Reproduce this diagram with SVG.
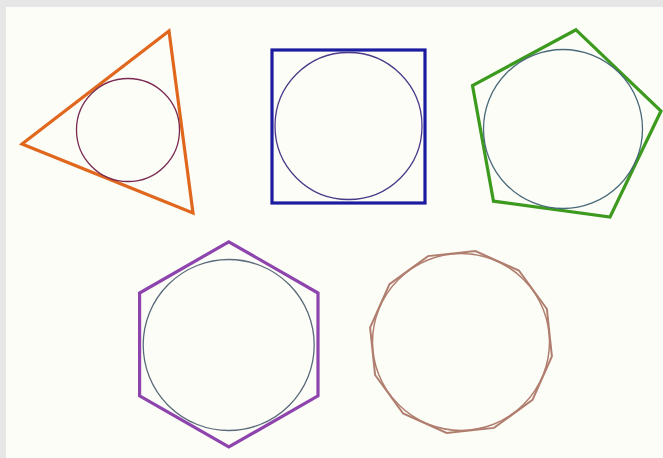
<svg xmlns="http://www.w3.org/2000/svg" width="663" height="458" viewBox="0 0 663 458">
  <style>
    .poly { fill: none; stroke-width: 3.2; stroke-linejoin: miter; }
    .inc { fill: none; stroke-width: 1.3; }
  </style>
  <rect x="0" y="0" width="663" height="458" fill="#e6e6e6"/>
  <rect x="6" y="7" width="657" height="451" fill="#fdfdf8"/>
  <g id="triangle">
    <polygon class="poly" points="22,144 169,31 193,213" stroke="#e0681e"/>
    <circle class="inc" cx="128" cy="130" r="51.5" stroke="#7a2a50"/>
  </g>
  <g id="square">
    <rect class="poly" x="272" y="50" width="153" height="153" stroke="#1c1ca0"/>
    <circle class="inc" cx="348.5" cy="126" r="73.5" stroke="#4a3a8a"/>
  </g>
  <g id="pentagon">
    <polygon class="poly" points="576,29.8 661,111 610,217 493.5,201.2 472.5,85.5" stroke="#3c9a1e"/>
    <circle class="inc" cx="563" cy="129" r="79.5" stroke="#4a6a7a"/>
  </g>
  <g id="hexagon">
    <polygon class="poly" points="228.8,241.8 318,293 318,395.8 228.8,447 139.6,395.8 139.6,293" stroke="#8e44ad"/>
    <circle class="inc" cx="228.7" cy="345" r="85.5" stroke="#5a6a7a"/>
  </g>
  <g id="dodecagon">
    <polygon class="poly" style="stroke-width:2" points="551.9,356.4 532.5,399.9 494,427.9 446.6,432.9 403.1,413.5 375.1,375 370.1,327.6 389.5,284.1 428,256.1 475.4,251.1 518.9,270.5 546.9,309" stroke="#b07e6e"/>
    <circle class="inc" style="stroke-width:1.5" cx="461" cy="342" r="88.5" stroke="#b07e6e"/>
  </g>
</svg>
